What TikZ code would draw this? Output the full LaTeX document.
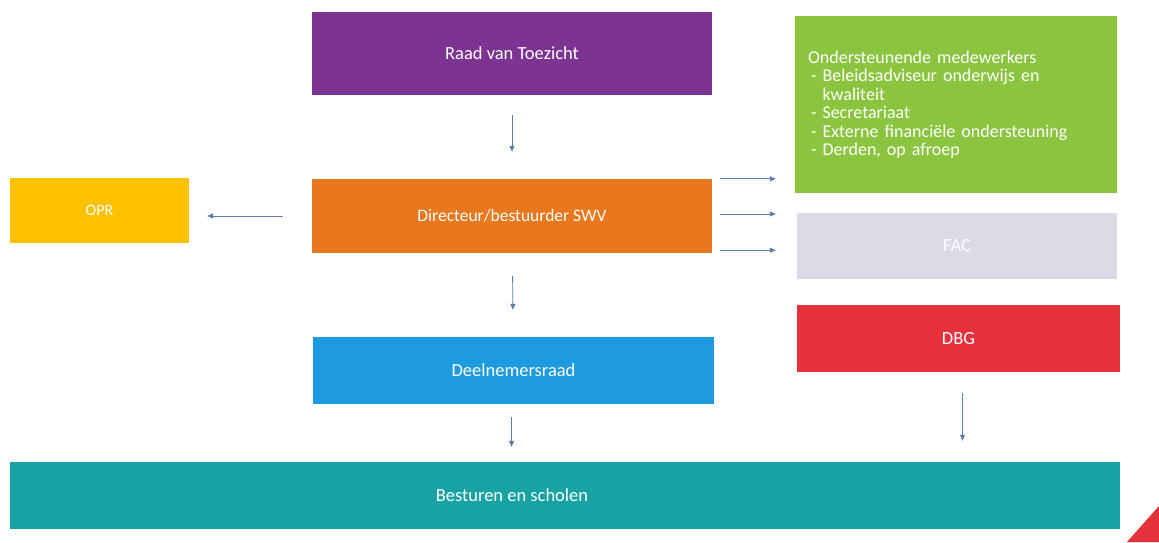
\documentclass[tikz,border=0pt]{standalone}
\usepackage{fontspec}
\setmainfont{Carlito}
\usepackage{tikz}
\usetikzlibrary{positioning,arrows.meta}
\definecolor{raadpurple}{HTML}{7D3391}
\definecolor{ondgreen}{HTML}{8BC53F}
\definecolor{opryellow}{HTML}{FFC000}
\definecolor{dirorange}{HTML}{E8771E}
\definecolor{facgray}{HTML}{DCDAE6}
\definecolor{dbgred}{HTML}{E4313C}
\definecolor{deelblue}{HTML}{1E9AE0}
\definecolor{bestteal}{HTML}{17A2A4}
\definecolor{arrblue}{HTML}{5A7DAA}
\tikzset{
  orgbox/.style={rectangle, draw=none, text=white, inner sep=0pt,
    font=\fontsize{18.5}{22}\selectfont},
  arr/.style={draw=arrblue, line width=0.8pt, -{Triangle[length=6pt,width=5pt]}},
  orgchart/.style={x=1pt, y=-1pt}
}
\begin{document}
\begin{tikzpicture}[orgchart]
  \useasboundingbox (0,0) rectangle (1159,542);
  \node[orgbox, fill=raadpurple, minimum width=400pt, minimum height=83pt] (raad) at (512,53.5) {Raad van Toezicht};
  \node[orgbox, fill=ondgreen, minimum width=322pt, minimum height=177pt, text width=296pt, align=left, font=\fontsize{18}{18.5}\selectfont] (onder) at (956,104.5)
    {Ondersteunende medewerkers\\
     \hspace*{3pt}- Beleidsadviseur onderwijs en\\
     \hspace*{3pt}\phantom{- }kwaliteit\\
     \hspace*{3pt}- Secretariaat\\
     \hspace*{3pt}- Externe financiële ondersteuning\\
     \hspace*{3pt}- Derden, op afroep};
  \node[orgbox, fill=opryellow, minimum width=179pt, minimum height=65pt, font=\fontsize{16}{19}\selectfont] (opr) at (99.5,210.5) {OPR};
  \node[orgbox, fill=dirorange, minimum width=400pt, minimum height=74pt, font=\fontsize{17.5}{21}\selectfont] (dir) at (512,216) {Directeur/bestuurder SWV};
  \node[orgbox, fill=facgray, minimum width=320pt, minimum height=66pt] (fac) at (957,246) {FAC};
  \node[orgbox, fill=dbgred, minimum width=323pt, minimum height=67pt] (dbg) at (958.5,338.5) {DBG};
  \node[orgbox, fill=deelblue, minimum width=401pt, minimum height=67pt] (deel) at (513.5,370.5) {Deelnemersraad};
  \node[orgbox, fill=bestteal, minimum width=1110pt, minimum height=67pt] (best) at (565,495.5) {};
  \node[orgbox] (bestlbl) at (best.center -| raad.center) {Besturen en scholen};
  % connectors
  \draw[arr, shorten <=20pt, shorten >=27pt] (raad) -- (dir);
  \draw[arr, shorten <=29pt, shorten >=18pt] (dir.west) -- (dir.west -| opr.east);
  \draw[arr, shorten <=8pt, shorten >=19pt] (dir.north east) -- (dir.north east -| onder.west);
  \draw[arr, shorten <=8pt, shorten >=21pt] ([yshift=2pt]dir.east) -- ([yshift=2pt]dir.east -| fac.west);
  \draw[arr, shorten <=8pt, shorten >=21pt] ([yshift=3pt]dir.south east) -- ([yshift=3pt]dir.south east -| fac.west);
  \draw[arr, shorten <=23pt, shorten >=27pt] (dir) -- (deel);
  \draw[arr, shorten <=13pt, shorten >=15pt] ([xshift=-2pt]deel.south) -- ([xshift=-2pt]deel.south |- best.north);
  \draw[arr, shorten <=21pt, shorten >=21pt] ([xshift=4pt]dbg.south) -- ([xshift=4pt]dbg.south |- best.north);
  % corner mark
  \fill[dbgred] (1127,542) -- (1159,506) -- (1159,542) -- cycle;
\end{tikzpicture}
\end{document}
